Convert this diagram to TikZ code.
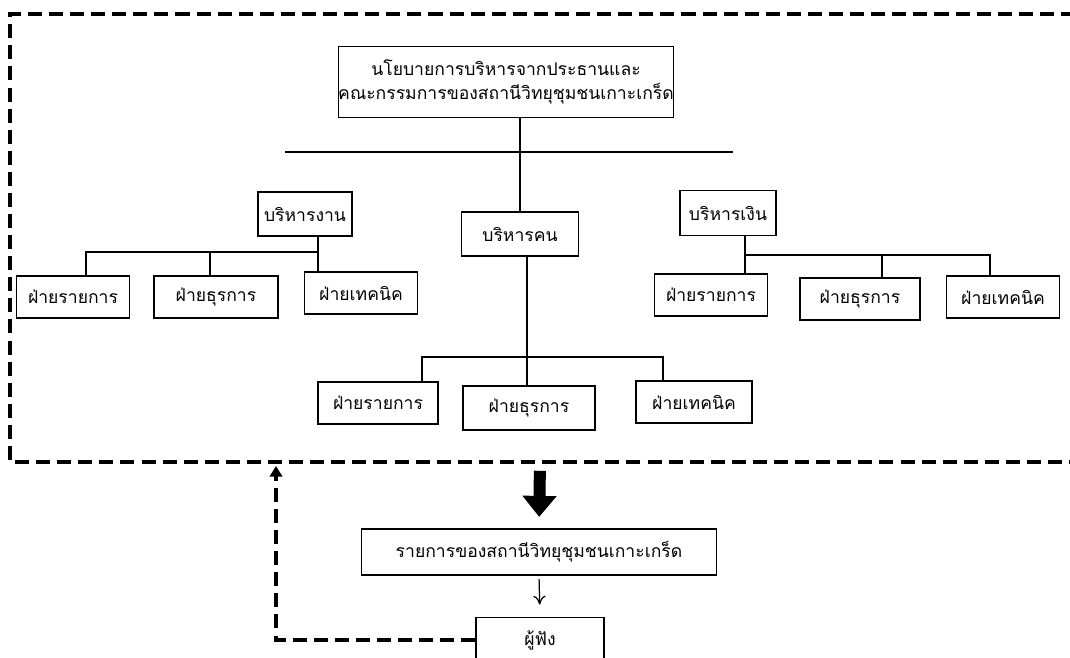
\documentclass[tikz,border=0pt]{standalone}
\usepackage{fontspec}
\newfontfamily\thaifont[Script=Thai]{Loma}
\usetikzlibrary{arrows.meta}

\begin{document}
\begin{tikzpicture}[x=0.02cm,y=-0.02cm,
    box/.style={draw,line width=0.8pt,inner sep=0pt,minimum height=0.84cm,
      font=\thaifont\fontsize{10}{14}\selectfont,align=center},
    frame/.style={line width=1.9pt,dash pattern=on 8pt off 4pt},
    link/.style={line width=0.7pt}]
  \useasboundingbox (0,0) rectangle (1070,657);
  % dashed frame, open on the right
  \coordinate (frNE) at (1075,14);
  \coordinate (frNW) at (10,14);
  \coordinate (frSW) at (10,462);
  \coordinate (frSE) at (1075,462);
  \draw[frame] (frNE) -- (frNW) -- (frSW) -- (frSE);

  \node[box,minimum width=6.54cm,minimum height=1.42cm] (policy) at (506,82)
    {นโยบายการบริหารจากประธานและ\\คณะกรรมการของสถานีวิทยุชุมชนเกาะเกร็ด};
  \coordinate (barL) at (285,152);
  \coordinate (barR) at (733,152);
  \draw[link] (barL) -- (barR);

  \node[box,minimum width=1.88cm,minimum height=0.88cm] (work) at (305,214) {บริหารงาน};
  \node[box,minimum width=2.34cm,minimum height=0.88cm] (people) at (520,234) {บริหารคน};
  \node[box,minimum width=1.92cm,minimum height=0.9cm] (money) at (728,213) {บริหารเงิน};

  % work units
  \node[box,minimum width=2.26cm] (work1) at (73,297) {ฝ่ายรายการ};
  \node[box,minimum width=2.48cm] (work2) at (216,297) {ฝ่ายธุรการ};
  \node[box,minimum width=2.26cm] (work3) at (361,293) {ฝ่ายเทคนิค};
  % money units
  \node[box,minimum width=2.26cm] (money1) at (711,295) {ฝ่ายรายการ};
  \node[box,minimum width=2.4cm] (money2) at (860,299) {ฝ่ายธุรการ};
  \node[box,minimum width=2.26cm] (money3) at (1003,297) {ฝ่ายเทคนิค};
  % people units
  \node[box,minimum width=2.4cm] (people1) at (378,403) {ฝ่ายรายการ};
  \node[box,minimum width=2.64cm,minimum height=0.88cm] (people2) at (529,408) {ฝ่ายธุรการ};
  \node[box,minimum width=2.32cm] (people3) at (694,402) {ฝ่ายเทคนิค};

  \node[box,minimum width=7.1cm,minimum height=0.92cm] (program) at (539,552)
    {รายการของสถานีวิทยุชุมชนเกาะเกร็ด};
  \node[box,minimum width=2.56cm,minimum height=0.9cm] (listener) at (540,640) {ผู้ฟัง};

  \draw[link] (policy.south -| people.north) -- (people.north);

  \coordinate (wA) at (86,252);
  \coordinate (wB) at (210,252);
  \coordinate (wC) at (318,252);
  \draw[link] (work.south -| wC) -- (wC |- work3.north);
  \draw[link] (wA |- work1.north) -- (wA) -- (wC);
  \draw[link] (wB) -- (wB |- work2.north);

  \coordinate (mA) at (745,255);
  \coordinate (mB) at (882,255);
  \coordinate (mC) at (990,255);
  \draw[link] (money.south -| mA) -- (mA |- money1.north);
  \draw[link] (mA) -- (mC) -- (mC |- money3.north);
  \draw[link] (mB) -- (mB |- money2.north);

  \coordinate (pA) at (422,357);
  \coordinate (pB) at (527,357);
  \coordinate (pC) at (663,357);
  \draw[link] (people.south -| pB) -- (pB |- people2.north);
  \draw[link] (pA |- people1.north) -- (pA) -- (pC) -- (pC |- people3.north);

  \coordinate (frOut) at (540,462);
  \draw[line width=0.24cm,-{Triangle[length=0.42cm,width=0.66cm]},shorten <=5pt,shorten >=6.5pt]
    (frOut) -- (program.north);
  \draw[link,-{To[length=5pt,width=7pt]},shorten <=2pt,shorten >=7pt] (program.south) -- (listener.north);

  \coordinate (fbTop) at (276,466);
  \draw[line width=1.9pt,dash pattern=on 8pt off 4pt,-{Triangle[length=6pt,width=7pt]}]
    (listener.west) -- (listener.west -| fbTop) -- (fbTop);
\end{tikzpicture}
\end{document}
